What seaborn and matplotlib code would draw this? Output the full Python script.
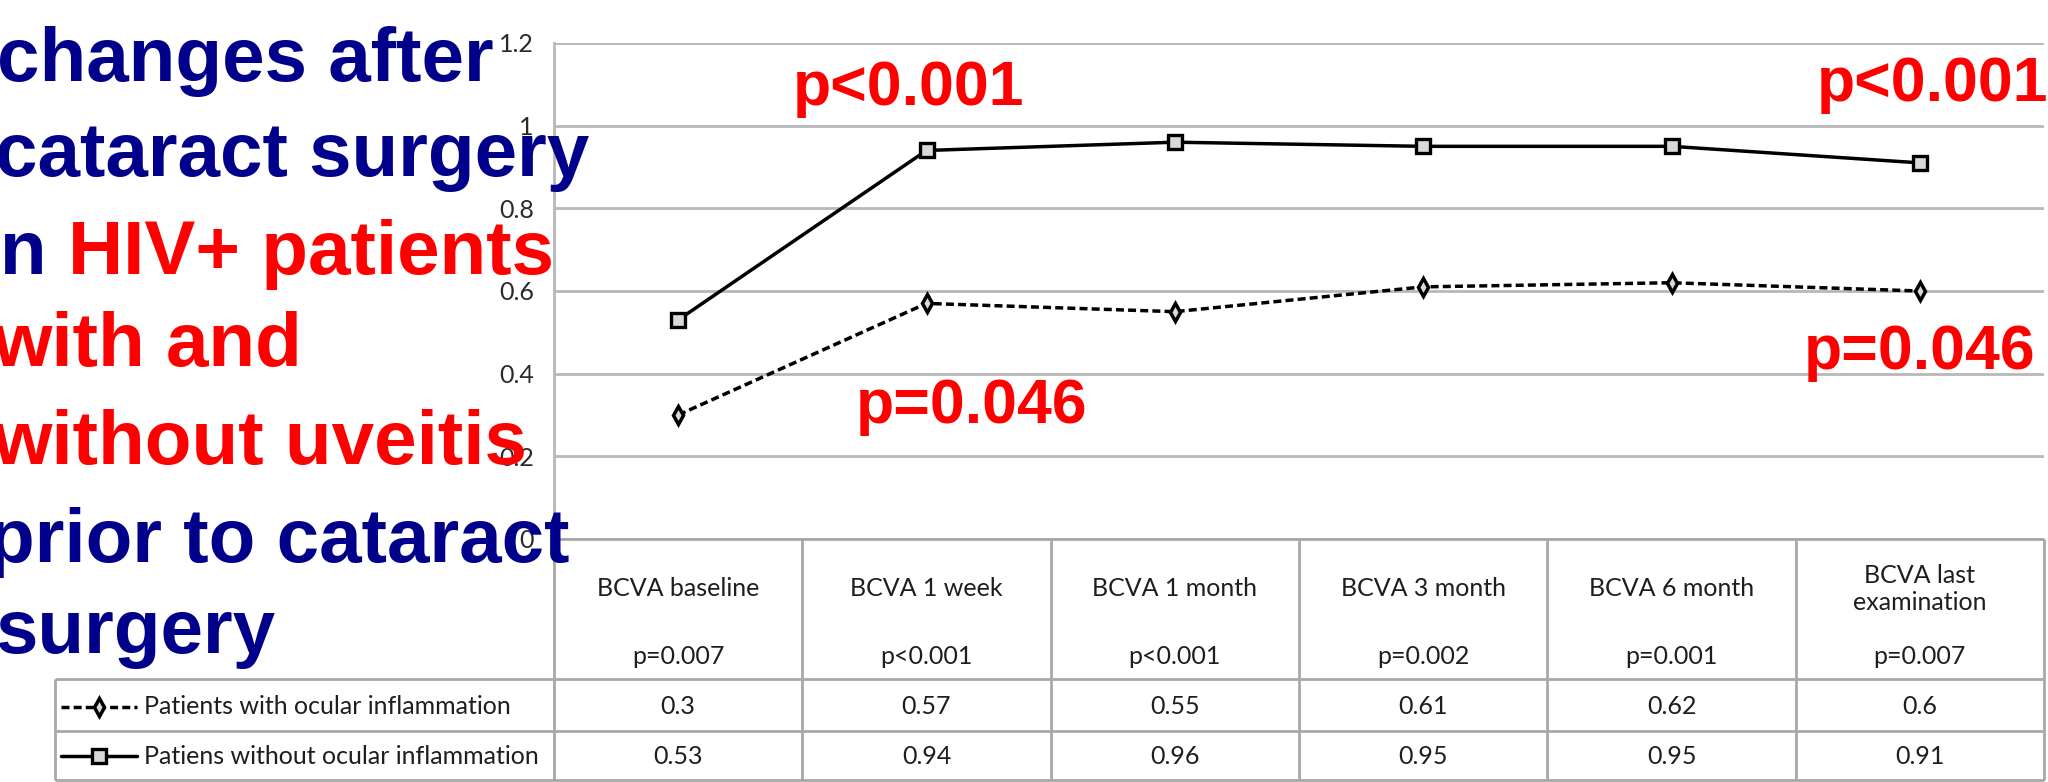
import numpy as np
import pandas as pd
import matplotlib
matplotlib.use("Agg")
import matplotlib.pyplot as plt
from matplotlib.text import Annotation
import seaborn as sns

# --- data ---
timepoints = ["BCVA baseline", "BCVA 1 week", "BCVA 1 month", "BCVA 3 month",
              "BCVA 6 month", "BCVA last\nexamination"]
p_values = ["p=0.007", "p<0.001", "p<0.001", "p=0.002", "p=0.001", "p=0.007"]
with_inflammation = [0.3, 0.57, 0.55, 0.61, 0.62, 0.6]
without_inflammation = [0.53, 0.94, 0.96, 0.95, 0.95, 0.91]
series_names = ["Patients with ocular inflammation",
                "Patiens without ocular inflammation"]
y_ticks = [0, 0.2, 0.4, 0.6, 0.8, 1, 1.2]
y_tick_labels = ["0", "0.2", "0.4", "0.6", "0.8", "1", "1.2"]

# red p-value callouts: text, x (category units), y (BCVA units)
callouts = [("p<0.001", 0.93, 1.09), ("p<0.001", 5.05, 1.10),
            ("p=0.046", 1.18, 0.32), ("p=0.046", 5.0, 0.45)]

NAVY = "#00008b"
RED = "#ff0000"
# slide title, line by line: list of (text, colour) pieces
title_lines = [
    [("changes after", NAVY)],
    [("cataract surgery", NAVY)],
    [("n ", NAVY), ("HIV+ patients", RED)],
    [("with and", RED)],
    [("without uveitis", RED)],
    [("prior to cataract", NAVY)],
    [("surgery", NAVY)],
]

df = pd.DataFrame({
    "pos": np.arange(len(timepoints)),
    "with": with_inflammation,
    "without": without_inflammation,
})

W, H = 2048, 782
sns.set_style("white")
plt.rcParams["font.family"] = ["Lato", "DejaVu Sans"]

fig = plt.figure(figsize=(W / 100, H / 100), dpi=100)

dashed = (0, (2.3, 1.2))
diamond = dict(marker="d", markersize=9, markerfacecolor="#d9d9d9",
               markeredgecolor="black", markeredgewidth=2.5)
square = dict(marker="s", markersize=10, markerfacecolor="#d9d9d9",
              markeredgecolor="black", markeredgewidth=2.4)

# plot area (pixel box 554..2044 x 43..539)
ax = fig.add_axes([554 / W, (H - 539) / H, 1490 / W, 496 / H])
sns.lineplot(data=df, x="pos", y="with", ax=ax, color="black", lw=2.5,
             linestyle=dashed, legend=False, **diamond)
sns.lineplot(data=df, x="pos", y="without", ax=ax, color="black", lw=2.5,
             legend=False, **square)

ax.set_xlim(-0.5, len(timepoints) - 0.5)
ax.set_ylim(0, 1.2)
ax.set_xticks([])
ax.set_yticks(y_ticks, y_tick_labels)
ax.set_xlabel("")
ax.set_ylabel("")
ax.yaxis.grid(True, color="#b8b8b8", lw=2)
ax.set_axisbelow(True)
for side in ["top", "right", "bottom"]:
    ax.spines[side].set_visible(False)
ax.spines["left"].set_color("#b8b8b8")
ax.spines["left"].set_linewidth(2)
ax.tick_params(axis="y", left=False, pad=11, labelsize=18, labelcolor="#2a2a2a")

for txt, x, y in callouts:
    ax.text(x, y, txt, color=RED, fontsize=45, fontweight="bold",
            family="Liberation Sans", ha="center", va="center", zorder=5)

# data table underneath, drawn in pixel coordinates
tb = fig.add_axes([0, 0, 1, 1])
tb.set_xlim(0, W)
tb.set_ylim(H, 0)
tb.axis("off")
tb.patch.set_alpha(0)

edges = np.linspace(554, 2044, len(timepoints) + 1)
centers = (edges[:-1] + edges[1:]) / 2
top, head_bot, r1_bot, r2_bot, leg_left = 539, 679, 731, 780, 55
gc = "#a8a8a8"
tb.hlines(top, edges[0], edges[-1], color=gc, lw=2)
tb.hlines([head_bot, r1_bot, r2_bot], leg_left, edges[-1], color=gc, lw=2)
tb.vlines(edges, top, r2_bot, color=gc, lw=2)
tb.vlines(leg_left, head_bot, r2_bot, color=gc, lw=2)

tc = "#1e1e1e"
for cx, name, pv, v1, v2 in zip(centers, timepoints, p_values,
                                with_inflammation, without_inflammation):
    tb.text(cx, 589, name, ha="center", va="center", fontsize=18,
            color=tc, linespacing=1.2)
    tb.text(cx, 657, pv, ha="center", va="center", fontsize=18, color=tc)
    tb.text(cx, 707, f"{v1:g}", ha="center", va="center", fontsize=18, color=tc)
    tb.text(cx, 756, f"{v2:g}", ha="center", va="center", fontsize=18, color=tc)

# legend keys in the first column
tb.plot([61, 137], [707, 707], color="black", lw=2.5, linestyle=dashed)
tb.plot([99], [707], **diamond)
tb.plot([61, 137], [756, 756], color="black", lw=2.5)
tb.plot([99], [756], **square)
tb.text(144, 707, series_names[0], ha="left", va="center", fontsize=18, color=tc)
tb.text(144, 756, series_names[1], ha="left", va="center", fontsize=18, color=tc)

# big slide title on top of everything
baselines = [81, 176, 274, 366, 464, 562, 653]
x_offsets = [-3, -5, 0, -8, -8, -12, -5]
for pieces, base, x0 in zip(title_lines, baselines, x_offsets):
    prev = None
    for txt, col in pieces:
        kw = dict(color=col, fontsize=55, fontweight="bold",
                  family="Liberation Sans", zorder=10)
        if prev is None:
            prev = fig.text(x0 / W, 1 - base / H, txt, ha="left",
                            va="baseline", **kw)
        else:
            # continue on the same line right after the previous piece
            prev = fig.add_artist(Annotation(txt, xy=(1, 0), xycoords=prev,
                                             ha="left", va="bottom", **kw))

fig.savefig("out.png", dpi=100)
